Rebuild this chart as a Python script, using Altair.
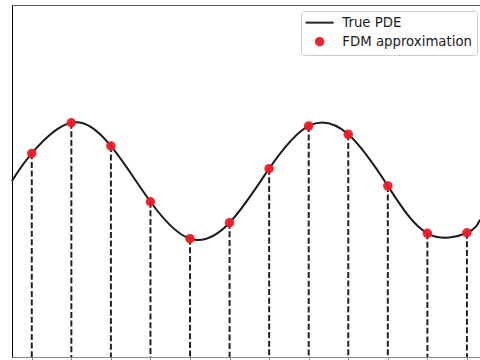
import altair as alt
import pandas as pd

# Grid nodes where the finite-difference solution is sampled
node_x = [1, 2, 3, 4, 5, 6, 7, 8, 9, 10, 11, 12]
fdm_u = [0.157, 0.331, 0.199, -0.118, -0.328, -0.237,
         0.070, 0.313, 0.265, -0.028, -0.297, -0.294]

# Reference solution of the PDE over the whole interval
true_x = [0.5, 1, 2, 3, 4, 5, 6, 7, 8, 9, 10, 11, 12, 12.33]
true_u = [0.0, 0.157, 0.331, 0.199, -0.118, -0.328, -0.237,
          0.070, 0.313, 0.265, -0.028, -0.297, -0.294, -0.22]

x_range = [0.5, 12.33]
u_range = [-1.0, 1.0]
series = ["True PDE", "FDM approximation"]
series_colors = ["#1a1a1a", "#ee1c25"]

true_df = pd.DataFrame({"x": true_x, "u": true_u, "series": series[0]})
fdm_df = pd.DataFrame({"x": node_x, "u": fdm_u, "series": series[1]})

bare = dict(ticks=False, labels=False, grid=False, title=None)
x_scale = alt.Scale(domain=x_range, nice=False, zero=False)
y_scale = alt.Scale(domain=u_range, nice=False, zero=False)

legend = alt.Legend(
    orient="none", legendX=289, legendY=6, title=None,
    strokeColor="#cccccc", cornerRadius=3, padding=5,
    fillColor="white",
    labelFont="DejaVu Sans", labelFontSize=13.3, labelColor="#1a1a1a",
    symbolOffset=7, labelOffset=16, rowPadding=4,
    symbolSize=56, symbolStrokeWidth=2,
)
color = alt.Color(
    "series:N", scale=alt.Scale(domain=series, range=series_colors), legend=legend
)
stroke = alt.Stroke(
    "series:N", scale=alt.Scale(domain=series, range=series_colors), legend=legend
)
shape = alt.Shape(
    "series:N",
    scale=alt.Scale(domain=series, range=["M-3.75,0H3.75", "circle"]),
    legend=legend,
)

curve = alt.Chart(true_df).mark_line(
    strokeWidth=2, interpolate="natural", color="#1a1a1a"
).encode(
    x=alt.X("x:Q", scale=x_scale,
            axis=alt.Axis(orient="bottom", domainColor="#555555", domainWidth=1, **bare)),
    y=alt.Y("u:Q", scale=y_scale,
            axis=alt.Axis(orient="left", domainColor="#000000", domainWidth=1, **bare)),
)

drops = alt.Chart(fdm_df).mark_rule(
    color="#222222", strokeWidth=2, strokeDash=[6, 2.6]
).encode(
    x=alt.X("x:Q", scale=x_scale,
            axis=alt.Axis(orient="top", domainColor="#555555", domainWidth=1, **bare)),
    y=alt.Y("u:Q", scale=y_scale),
    y2=alt.datum(u_range[0]),
)

nodes = alt.Chart(fdm_df).mark_point(
    filled=True, size=90, opacity=0.95, strokeWidth=0
).encode(
    x=alt.X("x:Q", scale=x_scale),
    y=alt.Y("u:Q", scale=y_scale),
    color=color,
    stroke=stroke,
    shape=shape,
)

chart = (
    alt.layer(curve, drops, nodes)
    .resolve_axis(x="independent")
    .properties(
        width=468, height=352,
        padding={"left": 12, "top": 5, "right": 0, "bottom": 3},
        autosize=alt.AutoSizeParams(type="none"),
    )
    .configure_view(stroke=None)
)

chart.save("out.html", embed_options={"renderer": "svg", "actions": False})
